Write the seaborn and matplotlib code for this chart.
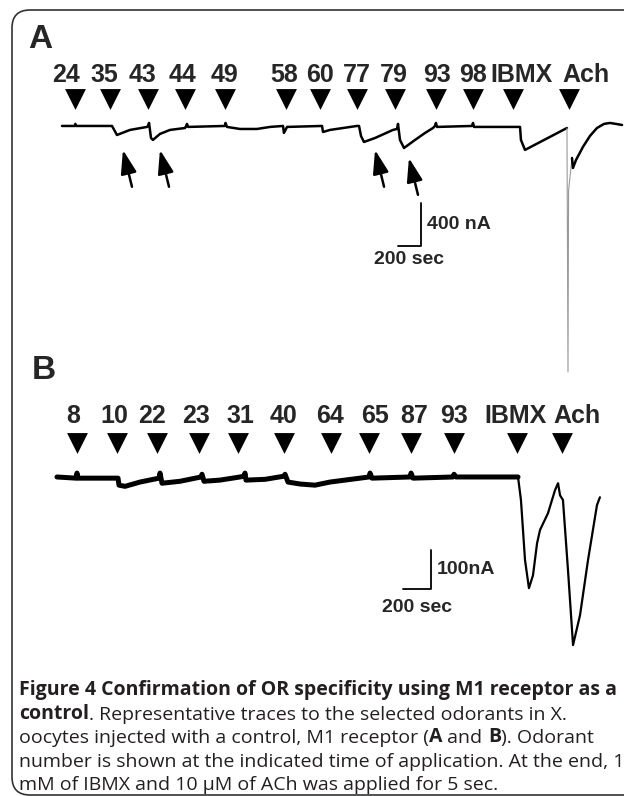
import matplotlib
matplotlib.use("Agg")
import matplotlib.pyplot as plt
import seaborn as sns
from matplotlib.patches import FancyBboxPatch
from matplotlib.transforms import IdentityTransform

# ---- data: panel A (time in sec, current in nA) ----
a_labels = ["24", "35", "43", "44", "49", "58", "60", "77", "79", "93", "98", "IBMX", "Ach"]
a_apply_t = [113, 417, 748, 1070, 1417, 1948, 2243, 2565, 2896, 3252, 3574, 3922, 4409]
a_trace_t = [0, 113, 116, 122, 435, 478, 591, 739, 748, 757, 774, 791, 852, 939, 1070,
             1080, 1087, 1096, 1417, 1422, 1435, 1548, 1696, 1809, 1922, 1930, 1957,
             2261, 2270, 2330, 2565, 2583, 2600, 2626, 2722, 2878, 2913, 2922, 2939,
             2974, 3070, 3157, 3226, 3243, 3252, 3261, 3565, 3574, 3583, 3983, 3991,
             4026, 4391]
a_trace_i = [0, 0, 19, 0, 0, -84, -37, -9, 0, 28, -112, -130, -74, -37, -19,
             0, 19, -9, 0, 28, -9, -28, -28, -9, 0, -65, -9,
             0, -56, -37, 0, 0, -93, -149, -112, -37, -28, 19, -130,
             -205, -130, -65, -19, 0, 28, -9, 0, 28, -9, -9, -130,
             -223, -19]
a_spike_t = [4391, 4400, 4405, 4435]
a_spike_i = [-19, -2288, -600, -298]
a_ach_t = [4435, 4443, 4470, 4530, 4591, 4652, 4713, 4765, 4817, 4870]
a_ach_i = [-298, -391, -316, -195, -93, -19, 19, 28, 19, 9]
a_arrow_t = [530, 852, 2722, 3017]
a_arrow_i = [-223, -223, -223, -298]

# ---- data: panel B ----
b_labels = ["8", "10", "22", "23", "31", "40", "64", "65", "87", "93", "IBMX", "Ach"]
b_apply_t = [143, 429, 714, 1014, 1293, 1621, 1957, 2229, 2529, 2836, 3286, 3607]
b_base_t = [0, 136, 143, 150, 436, 443, 486, 593, 729, 736, 750, 879, 1029, 1036,
            1050, 1164, 1307, 1336, 1343, 1350, 1486, 1621, 1629, 1650, 1736, 1843,
            1950, 2057, 2229, 2236, 2250, 2521, 2529, 2543, 2829, 2836, 2850, 3293]
b_base_i = [3, 0, 13, 0, 0, -18, -21, -10, 0, 13, -13, -8, 3, 10,
            -8, -5, 3, 5, 13, -5, -3, 5, 10, -10, -15, -18,
            -10, -5, 3, 13, 0, 3, 13, 0, 3, 10, 3, 3]
b_resp_t = [3293, 3314, 3343, 3371, 3400, 3429, 3450, 3507, 3557, 3579, 3593, 3614,
            3650, 3686, 3736, 3793, 3857, 3878]
b_resp_i = [3, -56, -210, -282, -249, -167, -133, -90, -31, -13, -44, -56,
            -236, -428, -351, -210, -69, -49]

# label nudges (px) relative to the arrowheads
a_label_dx = [-9, -6, -6, -3, 0, -2, 0, 0, -1, 1, 0, 8, 17]
b_label_dx = [-4, -3, -5, -3, 2, 0, -1, 6, 3, 0, -2, 15]

W, H = 624, 796
sns.set_style("white")
plt.rcParams['font.family'] = ['Liberation Sans', 'DejaVu Sans']
fig = plt.figure(figsize=(W / 100, H / 100), dpi=100)


def px_axes(top, bottom):
    return fig.add_axes([0, 1 - bottom / H, 1, (bottom - top) / H])


def draw_marks(ax, times, labels, dxs, tri_y, lab_y, fs):
    sns.scatterplot(x=times, y=[tri_y] * len(times), marker="v", s=225,
                    color="black", edgecolor="black", linewidth=0, ax=ax)
    for t, lab, dx in zip(times, labels, dxs):
        ax.annotate(lab, (t, lab_y), xytext=(dx * 0.72, 0), textcoords="offset points",
                    ha="center", va="baseline", fontsize=fs, fontweight="bold")


def scale_bar(ax, x0, y0, dt, di, ylabel, xlab_y):
    ax.plot([x0 - dt, x0, x0], [y0, y0, y0 + di], color="black", lw=1.3)
    ax.annotate(ylabel, (x0, y0 + di / 2), xytext=(4.5, 0), textcoords="offset points",
                ha="left", va="center", fontsize=14, fontweight="bold")
    ax.annotate("200 sec", (x0 - dt / 2, y0), xytext=(0, xlab_y), textcoords="offset points",
                ha="center", va="center", fontsize=14, fontweight="bold")


# Panel A
axA = px_axes(55, 380)
sns.lineplot(x=a_trace_t, y=a_trace_i, ax=axA, color="black", lw=1.8, sort=False, estimator=None)
sns.lineplot(x=a_spike_t, y=a_spike_i, ax=axA, color="#9a9a9a", lw=0.8, sort=False, estimator=None)
sns.lineplot(x=a_ach_t, y=a_ach_i, ax=axA, color="black", lw=1.8, sort=False, estimator=None)
draw_marks(axA, a_apply_t, a_labels, a_label_dx, 251, 409, 18)
for t, i in zip(a_arrow_t, a_arrow_i):
    axA.annotate("", xy=(t, i), xytext=(6.5, -26.5), textcoords="offset points",
                 arrowprops=dict(arrowstyle="-|>,head_length=1.2,head_width=0.4",
                                 mutation_scale=12, color="black", lw=1.8, shrinkA=0, shrinkB=0))
scale_bar(axA, 3122, -1116, 200, 400, "400 nA", -10)
axA.set_xlim(-539, 4887)
axA.set_ylim(-2363, 660)
axA.set_axis_off()

# Panel B
axB = px_axes(390, 665)
sns.lineplot(x=b_base_t, y=b_base_i, ax=axB, color="black", lw=3.6, sort=False, estimator=None)
sns.lineplot(x=b_resp_t, y=b_resp_i, ax=axB, color="black", lw=1.6, sort=False, estimator=None)
draw_marks(axB, b_apply_t, b_labels, b_label_dx, 91, 141, 18)
scale_bar(axB, 2671, -285, 200, 100, "100nA", -13)
axB.set_xlim(-407, 4050)
axB.set_ylim(-479, 226)
axB.set_axis_off()

# panel letters
fig.text(40 / W, 1 - 40 / H, "A", fontsize=24, fontweight="bold", ha="center", va="center")
fig.text(44 / W, 1 - 371 / H, "B", fontsize=24, fontweight="bold", ha="center", va="center")

# rounded frame (runs off right and bottom)
fig.patches.append(FancyBboxPatch((12, 1), 700, 785, boxstyle="round,pad=0,rounding_size=18",
                                  transform=IdentityTransform(), fill=False,
                                  edgecolor="#333333", lw=1.2))

# caption, bold and regular runs chained left to right
caption = [
    [("Figure 4 Confirmation of OR specificity using M1 receptor as a", "bold")],
    [("control", "bold"), (". Representative traces to the selected odorants in X.", "normal")],
    [("oocytes injected with a control, M1 receptor (", "normal"), ("A", "bold"),
     (" and ", "normal"), ("B", "bold"), ("). Odorant", "normal")],
    [("number is shown at the indicated time of application. At the end, 1", "normal")],
    [("mM of IBMX and 10 \u03bcM of ACh was applied for 5 sec.", "normal")],
]
base_y = [695, 719, 743, 767, 790]
for segs, by in zip(caption, base_y):
    last = None
    for txt, wt in segs:
        kw = dict(fontsize=14, fontweight=wt, color="#231f20", family=["Open Sans", "DejaVu Sans"])
        if last is None:
            last = fig.text(19 / W, 1 - by / H, txt, ha="left", va="baseline", **kw)
        else:
            last = axA.annotate(txt, xy=(1, 0), xycoords=last, ha="left", va="bottom",
                                annotation_clip=False, **kw)

fig.savefig("out.png", dpi=100)
